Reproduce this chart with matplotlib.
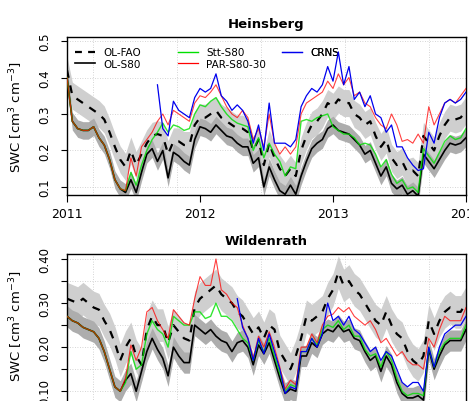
import numpy as np
import matplotlib
matplotlib.use("Agg")
import matplotlib.pyplot as plt
from matplotlib.lines import Line2D

# time axis: 76 samples, 2011-01 to 2014-01
years = np.linspace(2011, 2014, 76)
nan = np.nan

# ---- Heinsberg ----
hb_ol_fao = [0.42, 0.35, 0.34, 0.33, 0.32, 0.31, 0.30, 0.285, 0.25, 0.21,
             0.175, 0.155, 0.20, 0.16, 0.19, 0.22, 0.24, 0.245, 0.24, 0.19,
             0.225, 0.225, 0.215, 0.215, 0.27, 0.29, 0.29, 0.30, 0.31, 0.29,
             0.28, 0.27, 0.26, 0.26, 0.25, 0.20, 0.23, 0.16, 0.22, 0.18,
             0.15, 0.13, 0.15, 0.13, 0.20, 0.24, 0.27, 0.28, 0.30, 0.33,
             0.32, 0.34, 0.33, 0.33, 0.30, 0.29, 0.27, 0.28, 0.24, 0.21,
             0.23, 0.18, 0.16, 0.17, 0.14, 0.145, 0.13, 0.24, 0.22, 0.20,
             0.24, 0.27, 0.29, 0.285, 0.29, 0.31]
hb_ol_s80 = [0.40, 0.28, 0.26, 0.255, 0.255, 0.265, 0.235, 0.215, 0.175, 0.12,
             0.095, 0.085, 0.12, 0.085, 0.14, 0.19, 0.205, 0.17, 0.20, 0.125,
             0.195, 0.185, 0.17, 0.16, 0.23, 0.265, 0.26, 0.25, 0.27, 0.255,
             0.24, 0.235, 0.22, 0.21, 0.21, 0.165, 0.18, 0.10, 0.155, 0.12,
             0.09, 0.08, 0.105, 0.08, 0.13, 0.17, 0.205, 0.22, 0.23, 0.26,
             0.27, 0.255, 0.25, 0.245, 0.23, 0.215, 0.19, 0.20, 0.165, 0.13,
             0.155, 0.11, 0.095, 0.105, 0.08, 0.09, 0.075, 0.19, 0.17, 0.15,
             0.175, 0.20, 0.22, 0.215, 0.22, 0.235]
hb_stt = [0.40, 0.28, 0.26, 0.255, 0.255, 0.265, 0.235, 0.215, 0.175, 0.12,
          0.095, 0.09, 0.14, 0.105, 0.16, 0.20, 0.23, 0.25, 0.275, 0.25,
          0.27, 0.265, 0.255, 0.26, 0.30, 0.325, 0.32, 0.335, 0.345, 0.32,
          0.30, 0.285, 0.275, 0.27, 0.265, 0.20, 0.235, 0.18, 0.22, 0.19,
          0.17, 0.13, 0.155, 0.15, 0.28, 0.285, 0.28, 0.29, 0.295, 0.30,
          0.265, 0.255, 0.245, 0.245, 0.235, 0.215, 0.22, 0.215, 0.19, 0.155,
          0.175, 0.135, 0.11, 0.12, 0.095, 0.10, 0.085, 0.205, 0.185, 0.165,
          0.195, 0.225, 0.24, 0.23, 0.235, 0.26]
hb_par = [0.40, 0.28, 0.26, 0.255, 0.255, 0.265, 0.235, 0.215, 0.175, 0.12,
          0.095, 0.09, 0.18, 0.13, 0.21, 0.23, 0.25, 0.28, 0.30, 0.27,
          0.31, 0.30, 0.29, 0.28, 0.33, 0.35, 0.345, 0.36, 0.38, 0.35,
          0.32, 0.30, 0.29, 0.31, 0.29, 0.23, 0.26, 0.21, 0.30, 0.22,
          0.19, 0.21, 0.19, 0.21, 0.30, 0.33, 0.34, 0.35, 0.36, 0.39,
          0.37, 0.41, 0.38, 0.40, 0.35, 0.36, 0.33, 0.32, 0.29, 0.27,
          0.26, 0.30, 0.27, 0.225, 0.23, 0.22, 0.245, 0.22, 0.32, 0.27,
          0.30, 0.33, 0.34, 0.33, 0.35, 0.37]
hb_crns = [nan] * 17 + [
          0.38, 0.26, 0.24, 0.335, 0.31, 0.30, 0.29, 0.345, 0.37, 0.36,
          0.37, 0.41, 0.35, 0.335, 0.31, 0.325, 0.31, 0.28, 0.22, 0.27,
          0.20, 0.33, 0.22, 0.22, 0.22, 0.21, 0.23, 0.32, 0.35, 0.37,
          0.36, 0.38, 0.43, 0.39, 0.47, 0.38, 0.43, 0.34, 0.36, 0.32,
          0.35, 0.30, 0.29, 0.25, 0.27, 0.21, 0.21, 0.18, 0.16, 0.145,
          0.15, 0.25, 0.22, 0.29, 0.33, 0.34, 0.33, 0.34, 0.36]

# ---- Wildenrath ----
wr_ol_fao = [0.31, 0.305, 0.30, 0.31, 0.30, 0.29, 0.285, 0.26, 0.24, 0.21,
             0.17, 0.20, 0.22, 0.18, 0.16, 0.24, 0.27, 0.25, 0.25, 0.21,
             0.25, 0.235, 0.22, 0.215, 0.29, 0.31, 0.32, 0.33, 0.34, 0.32,
             0.31, 0.30, 0.28, 0.27, 0.25, 0.23, 0.245, 0.22, 0.25, 0.24,
             0.19, 0.17, 0.15, 0.18, 0.22, 0.27, 0.26, 0.27, 0.28, 0.31,
             0.33, 0.37, 0.34, 0.35, 0.33, 0.32, 0.30, 0.28, 0.26, 0.25,
             0.28, 0.25, 0.23, 0.22, 0.19, 0.17, 0.16, 0.18, 0.26, 0.23,
             0.26, 0.28, 0.29, 0.28, 0.28, 0.30]
wr_ol_s80 = [0.27, 0.26, 0.255, 0.245, 0.24, 0.235, 0.22, 0.19, 0.15, 0.11,
             0.10, 0.125, 0.14, 0.10, 0.145, 0.19, 0.22, 0.195, 0.175, 0.135,
             0.20, 0.18, 0.165, 0.165, 0.25, 0.24, 0.23, 0.24, 0.225, 0.215,
             0.21, 0.19, 0.21, 0.215, 0.20, 0.16, 0.205, 0.185, 0.21, 0.17,
             0.13, 0.095, 0.105, 0.10, 0.18, 0.18, 0.21, 0.20, 0.23, 0.24,
             0.235, 0.25, 0.235, 0.24, 0.22, 0.215, 0.19, 0.17, 0.18, 0.145,
             0.18, 0.16, 0.12, 0.095, 0.085, 0.085, 0.09, 0.08, 0.195, 0.15,
             0.18, 0.205, 0.215, 0.215, 0.215, 0.24]
wr_stt = [0.27, 0.26, 0.255, 0.245, 0.24, 0.235, 0.22, 0.19, 0.15, 0.11,
          0.10, 0.12, 0.19, 0.15, 0.16, 0.23, 0.26, 0.24, 0.23, 0.20,
          0.27, 0.26, 0.25, 0.25, 0.28, 0.28, 0.265, 0.27, 0.30, 0.27,
          0.27, 0.26, 0.24, 0.22, 0.21, 0.17, 0.215, 0.19, 0.22, 0.18,
          0.14, 0.10, 0.115, 0.11, 0.19, 0.19, 0.22, 0.205, 0.24, 0.25,
          0.245, 0.26, 0.24, 0.25, 0.225, 0.225, 0.195, 0.18, 0.185, 0.155,
          0.19, 0.17, 0.13, 0.10, 0.09, 0.095, 0.095, 0.09, 0.20, 0.155,
          0.19, 0.21, 0.22, 0.22, 0.22, 0.25]
wr_par = [0.27, 0.26, 0.255, 0.245, 0.24, 0.235, 0.22, 0.19, 0.15, 0.11,
          0.10, 0.13, 0.205, 0.17, 0.20, 0.28, 0.29, 0.26, 0.24, 0.22,
          0.285, 0.27, 0.255, 0.25, 0.31, 0.36, 0.34, 0.34, 0.40, 0.33,
          0.32, 0.30, 0.29, 0.25, 0.22, 0.175, 0.225, 0.20, 0.235, 0.20,
          0.155, 0.105, 0.125, 0.115, 0.20, 0.20, 0.23, 0.21, 0.25, 0.27,
          0.275, 0.29, 0.28, 0.29, 0.27, 0.26, 0.25, 0.26, 0.24, 0.21,
          0.22, 0.20, 0.18, 0.19, 0.17, 0.16, 0.16, 0.15, 0.22, 0.20,
          0.24, 0.27, 0.26, 0.26, 0.26, 0.29]
wr_crns = [nan] * 32 + [
          0.31, 0.245, 0.22, 0.17, 0.22, 0.185, 0.23, 0.19, 0.15, 0.095,
          0.11, 0.105, 0.19, 0.19, 0.22, 0.20, 0.23, 0.30, 0.26, 0.27,
          0.25, 0.27, 0.24, 0.23, 0.21, 0.19, 0.20, 0.17, 0.19, 0.18,
          0.15, 0.12, 0.11, 0.12, 0.12, 0.10, 0.20, 0.155, 0.20, 0.23,
          0.24, 0.25, 0.25, 0.27]

# ensemble spread (half width of grey bands)
fao_spread = 0.037
s80_spread = 0.024

vgrid = [2011.195, 2011.83, 2012.46, 2013.09, 2013.72]


def draw_panel(ax, fao, s80, stt, par, crns, title):
    fao = np.array(fao)
    s80 = np.array(s80)
    ax.fill_between(years, fao - fao_spread, fao + fao_spread,
                    color='#cfcfcf', lw=0, zorder=1)
    ax.fill_between(years, s80 - s80_spread, s80 + s80_spread,
                    color='#adadad', lw=0, zorder=1)
    ax.plot(years, fao, color='black', lw=1.6, dashes=(3.5, 3.5), zorder=3)
    ax.plot(years, s80, color='black', lw=1.2, zorder=3)
    ax.plot(years, stt, color='#00e000', lw=1.0, alpha=0.8, zorder=4)
    ax.plot(years, par, color='#ff0000', lw=0.8, alpha=0.75, zorder=5)
    ax.plot(years, crns, color='#0000ee', lw=0.9, zorder=6)
    for v in vgrid:
        ax.axvline(v, color='#c8c8c8', lw=0.6, ls=(0, (1, 2)), zorder=0)
    ax.grid(axis='y', color='#c8c8c8', lw=0.6, ls=(0, (1, 2)))
    ax.set_axisbelow(True)
    ax.set_xlim(2011, 2014)
    ax.set_title(title, fontsize=9.5, fontweight='bold', pad=7)
    ax.set_ylabel('SWC [cm$^3$ cm$^{-3}$]', fontsize=9.5, va='center')
    ax.tick_params(axis='y', labelrotation=90, labelsize=8.5, length=4, pad=7)
    ax.tick_params(axis='x', labelsize=9, length=5, pad=4)
    for s in ax.spines.values():
        s.set_linewidth(1.0)


fig = plt.figure(figsize=(4.69, 4.02), dpi=100)
ax1 = fig.add_axes([0.1429, 0.5132, 0.8507, 0.3923])
ax2 = fig.add_axes([0.1429, -0.0266, 0.8507, 0.3923])

draw_panel(ax1, hb_ol_fao, hb_ol_s80, hb_stt, hb_par, hb_crns, 'Heinsberg')
draw_panel(ax2, wr_ol_fao, wr_ol_s80, wr_stt, wr_par, wr_crns, 'Wildenrath')

ax1.set_ylim(0.0789, 0.511)
ax1.set_yticks([0.1, 0.2, 0.3, 0.4, 0.5])
ax1.set_yticklabels(['0.1', '0.2', '0.3', '0.4', '0.5'], rotation=90, va='center')
ax1.set_xticks([2011, 2012, 2013, 2014])
ax1.set_xticklabels(['2011', '2012', '2013', '2014'])

ax2.set_ylim(0.0537, 0.4113)
ax2.set_yticks([0.10, 0.15, 0.20, 0.25, 0.30, 0.35, 0.40])
ax2.set_yticklabels(['0.10', '', '0.20', '', '0.30', '', '0.40'], rotation=90, va='center')
ax2.set_xticks([2011, 2012, 2013, 2014])
ax2.set_xticklabels([])
ax1.yaxis.set_label_coords(-0.128, 0.5)
ax2.yaxis.set_label_coords(-0.128, 0.55)

# legend in three columns, each its own box
h_fao = Line2D([], [], color='black', lw=1.6, dashes=(3.1, 2.8))
h_s80 = Line2D([], [], color='black', lw=1.2)
h_stt = Line2D([], [], color='#00e000', lw=1.0)
h_par = Line2D([], [], color='#ff0000', lw=0.9)
h_crns = Line2D([], [], color='#0000ee', lw=0.9)
leg_kw = dict(frameon=False, loc='upper left', fontsize=7.5, handlelength=1.9,
              handletextpad=0.8, labelspacing=0.15, borderpad=0, borderaxespad=0)
cols = [([h_fao, h_s80], ['OL-FAO', 'OL-S80'], 0.02),
        ([h_stt, h_par], ['Stt-S80', 'PAR-S80-30'], 0.278),
        ([h_crns], ['CRNS'], 0.539)]
for handles, labels, xpos in cols:
    leg = ax1.legend(handles, labels, bbox_to_anchor=(xpos, 0.935), **leg_kw)
    ax1.add_artist(leg)

fig.savefig('out.png', dpi=100)
